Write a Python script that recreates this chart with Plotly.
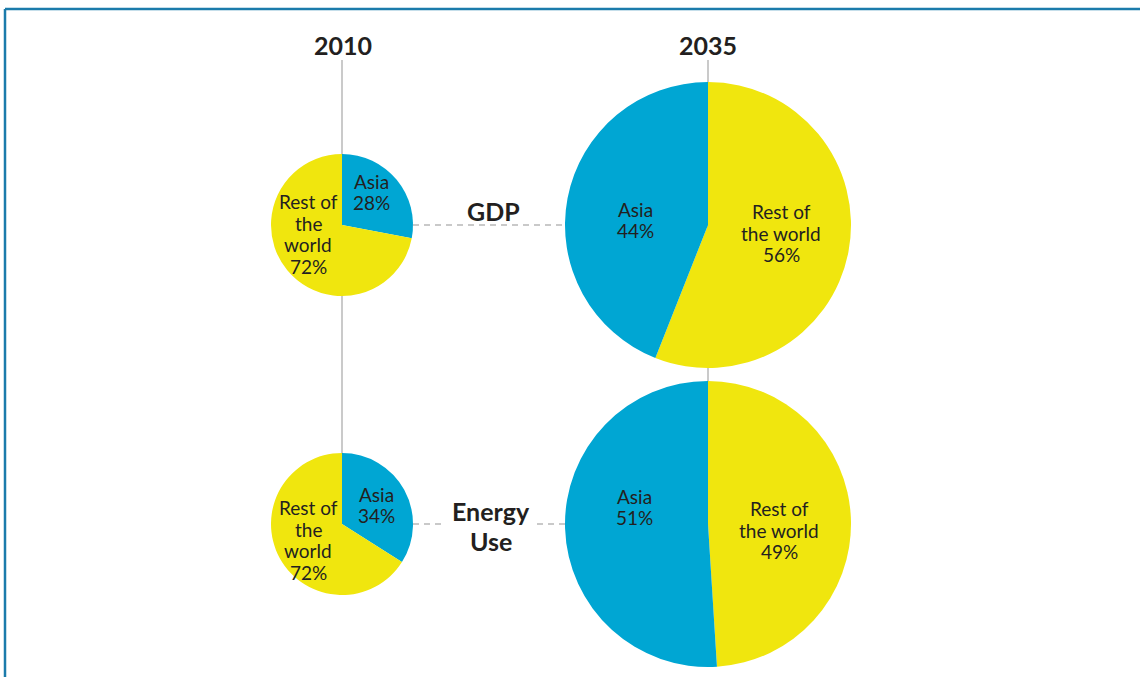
import plotly.graph_objects as go

# data
years = ['2010', '2035']
metrics = ['GDP', 'Energy Use']
regions = ['Asia', 'Rest of the world']
asia_2010 = [28, 34]
rest_2010 = [72, 66]
asia_2035 = [44, 51]
rest_2035 = [56, 49]
# percentages as printed on the original graphic
rest_2010_printed = ['72%', '72%']

BLUE = '#00a6d3'
YELLOW = '#f0e60e'
INK = '#231f20'
GREY = '#b8b8b8'
W, H = 1140, 677
FONT = 'Lato'


def px_x(x):
    return x / W


def px_y(y):
    return 1 - y / H


def domain(cx, cy, r):
    return dict(x=[px_x(cx - r), px_x(cx + r)], y=[px_y(cy + r), px_y(cy - r)])


# pixel layout: centres and radii
left_x, right_x = 342, 708
row_y = [225, 524]
r_small, r_big = 71, 143

fig = go.Figure()

for i in range(2):
    # 2010: Asia first, clockwise from 12 o'clock
    fig.add_trace(go.Pie(
        labels=regions, values=[asia_2010[i], rest_2010[i]],
        marker=dict(colors=[BLUE, YELLOW], line=dict(width=0)),
        sort=False, direction='clockwise', rotation=0,
        textinfo='none', hoverinfo='label+percent',
        domain=domain(left_x, row_y[i], r_small), showlegend=False,
    ))
    # 2035: rest of world on the right, Asia on the left
    fig.add_trace(go.Pie(
        labels=regions[::-1], values=[rest_2035[i], asia_2035[i]],
        marker=dict(colors=[YELLOW, BLUE], line=dict(width=0)),
        sort=False, direction='clockwise', rotation=0,
        textinfo='none', hoverinfo='label+percent',
        domain=domain(right_x, row_y[i], r_big), showlegend=False,
    ))

shapes = []
# frame
shapes.append(dict(type='line', xref='paper', yref='paper',
                   x0=px_x(5), x1=1, y0=px_y(9), y1=px_y(9),
                   line=dict(color='#1b7bab', width=2.5)))
shapes.append(dict(type='line', xref='paper', yref='paper',
                   x0=px_x(5), x1=px_x(5), y0=px_y(9), y1=0,
                   line=dict(color='#1b7bab', width=2.5)))
# vertical guides
for x in (left_x, right_x):
    shapes.append(dict(type='line', xref='paper', yref='paper', layer='below',
                       x0=px_x(x), x1=px_x(x), y0=px_y(60), y1=px_y(row_y[1]),
                       line=dict(color=GREY, width=1.5)))
# dashed connectors (the lower one breaks around the "Energy Use" label)
segments = [
    (row_y[0], left_x + r_small, right_x - r_big),
    (row_y[1], left_x + r_small, 446),
    (row_y[1], 537, right_x - r_big),
]
for y, xa, xb in segments:
    shapes.append(dict(type='line', xref='paper', yref='paper', layer='below',
                       x0=px_x(xa), x1=px_x(xb), y0=px_y(y), y1=px_y(y),
                       line=dict(color=GREY, width=1.5, dash='6px,5px')))

ann = []


def label(x, y, lines, size=19, lh=21.5, bold=False):
    n = len(lines)
    for k, line in enumerate(lines):
        t = f'<b>{line}</b>' if bold else line
        ann.append(dict(x=px_x(x), y=px_y(y + (k - (n - 1) / 2) * lh),
                        xref='paper', yref='paper', text=t,
                        showarrow=False, xanchor='center', yanchor='middle',
                        font=dict(family=FONT, size=size, color=INK)))


label(left_x + 1, 45, [years[0]], size=25, bold=True)
label(right_x, 45, [years[1]], size=25, bold=True)
label(493, 211, [metrics[0]], size=25, bold=True)
label(491, 526, metrics[1].split(' '), size=25, lh=30, bold=True)

label(371, 192, [regions[0], f'{asia_2010[0]}%'])
label(308, 234, ['Rest of', 'the', 'world', rest_2010_printed[0]])
label(376, 505, [regions[0], f'{asia_2010[1]}%'])
label(308, 540, ['Rest of', 'the', 'world', rest_2010_printed[1]])
label(635, 220, [regions[0], f'{asia_2035[0]}%'])
label(781, 233, ['Rest of', 'the world', f'{rest_2035[0]}%'])
label(634, 507, [regions[0], f'{asia_2035[1]}%'])
label(779, 530, ['Rest of', 'the world', f'{rest_2035[1]}%'])

fig.update_layout(
    width=W, height=H,
    margin=dict(l=0, r=0, t=0, b=0),
    paper_bgcolor='white', plot_bgcolor='white',
    shapes=shapes, annotations=ann,
    font=dict(family=FONT),
)

fig.write_html('out.html', config={'displayModeBar': False},
               post_script="document.body.style.margin='0px';")
